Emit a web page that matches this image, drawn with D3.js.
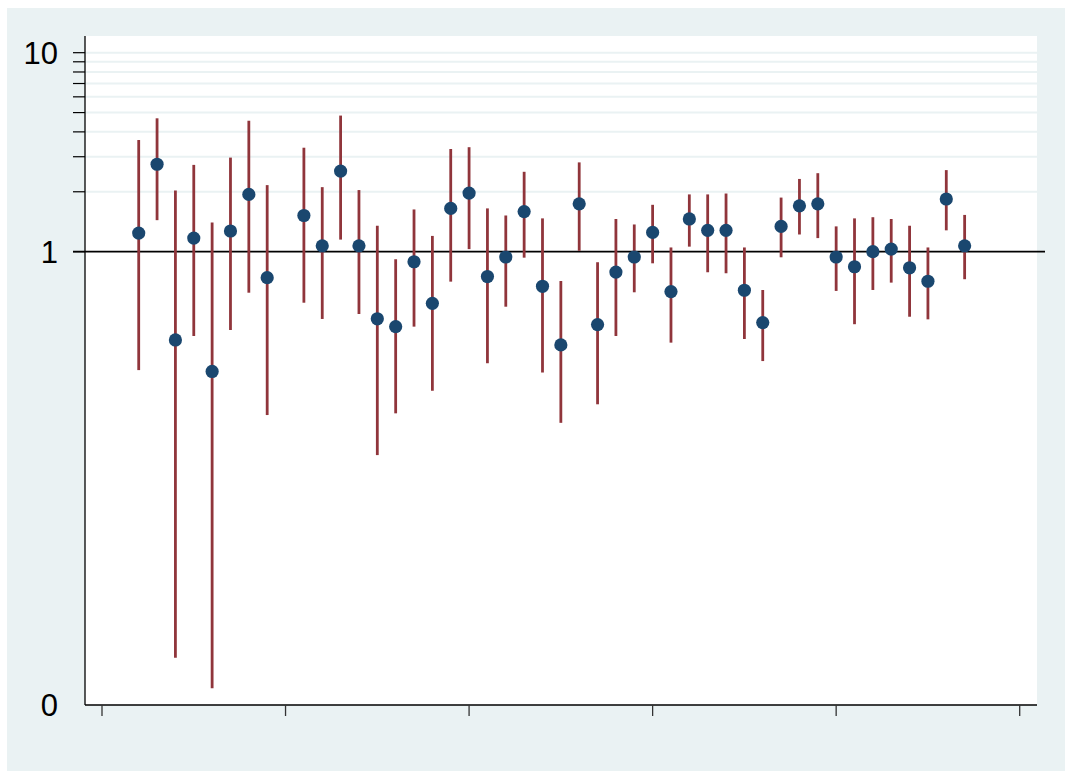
<!DOCTYPE html>
<html>
<head>
<meta charset="utf-8">
<script src="https://cdn.jsdelivr.net/npm/d3@7.9.0/dist/d3.min.js"></script>
<style>
  body { margin: 0; background: #fff; }
  svg { display: block; }
  text { font-family: "Liberation Sans", Arial, sans-serif; }
</style>
</head>
<body>
<svg id="chart" width="1073" height="771"></svg>
<script>
// Category positions (x) and estimates with lower / upper bounds (log scale)
const positions = [2, 3, 4, 5, 6, 7, 8, 9,
  11, 12, 13, 14, 15, 16, 17, 18, 19, 20, 21, 22, 23, 24, 25, 26, 27, 28, 29,
  30, 31, 32, 33, 34, 35, 36, 37, 38, 39, 40, 41, 42, 43, 44, 45, 46, 47];

const estimates = [1.24, 2.75, 0.36, 1.17, 0.25, 1.27, 1.94, 0.74,
  1.52, 1.07, 2.54, 1.07, 0.46, 0.42, 0.89, 0.55, 1.65, 1.97, 0.75, 0.94, 1.59, 0.67, 0.34, 1.74, 0.43, 0.79, 0.94,
  1.25, 0.63, 1.46, 1.28, 1.28, 0.64, 0.44, 1.34, 1.70, 1.74, 0.94, 0.84, 1.00, 1.03, 0.83, 0.71, 1.84, 1.07];

const lower = [0.254, 1.44, 0.0091, 0.377, 0.0064, 0.404, 0.622, 0.151,
  0.554, 0.459, 1.15, 0.486, 0.095, 0.154, 0.42, 0.20, 0.707, 1.03, 0.275, 0.529, 0.933, 0.247, 0.138, 1.01, 0.171, 0.377, 0.625,
  0.874, 0.349, 1.06, 0.788, 0.779, 0.364, 0.282, 0.937, 1.22, 1.17, 0.635, 0.432, 0.642, 0.699, 0.471, 0.457, 1.28, 0.727];

const upper = [3.64, 4.68, 2.03, 2.73, 1.40, 2.97, 4.55, 2.16,
  3.33, 2.11, 4.83, 2.04, 1.35, 0.916, 1.63, 1.20, 3.28, 3.35, 1.65, 1.52, 2.52, 1.47, 0.712, 2.81, 0.885, 1.46, 1.37,
  1.72, 1.05, 1.94, 1.94, 1.96, 1.05, 0.642, 1.87, 2.32, 2.48, 1.34, 1.47, 1.49, 1.46, 1.35, 1.05, 2.57, 1.53];

// y axis: labelled ticks and minor (gridline) ticks
const yBottom = 0.00527, yTop = 12.13;
const yLabels = [[yBottom, "0"], [1, "1"], [10, "10"]];
const yMinor = [2, 3, 4, 5, 6, 7, 8, 9, 10];
const xTicks = [0, 10, 20, 30, 40, 50];

const data = positions.map((p, i) => ({ pos: p, est: estimates[i], lo: lower[i], hi: upper[i] }));

const svg = d3.select("#chart");

// outer graph region
svg.append("rect")
  .attr("x", 7).attr("y", 8)
  .attr("width", 1058).attr("height", 763)
  .attr("fill", "#eaf2f3");

const plot = { left: 85, right: 1037, top: 36, bottom: 705 };

svg.append("rect")
  .attr("x", plot.left).attr("y", plot.top)
  .attr("width", plot.right - plot.left).attr("height", plot.bottom - plot.top)
  .attr("fill", "#fff");

const x = d3.scaleLinear().domain([0, 50]).range([102, 1019.7]);
const y = d3.scaleLog().domain([yBottom, yTop]).range([plot.bottom, plot.top]);

// gridlines
svg.append("g").selectAll("line")
  .data(yMinor)
  .join("line")
  .attr("x1", plot.left).attr("x2", plot.right)
  .attr("y1", d => y(d)).attr("y2", d => y(d))
  .attr("stroke", "#eaf2f3")
  .attr("stroke-width", 2);

// y ticks (minor + 1)
svg.append("g").selectAll("line")
  .data(yMinor.concat([1]))
  .join("line")
  .attr("x1", plot.left - 12).attr("x2", plot.left)
  .attr("y1", d => y(d)).attr("y2", d => y(d))
  .attr("stroke", "#000")
  .attr("stroke-width", 1.2);

// y labels
svg.append("g").selectAll("text")
  .data(yLabels)
  .join("text")
  .attr("x", 58)
  .attr("y", d => y(d[0]))
  .attr("dy", "0.36em")
  .attr("text-anchor", "end")
  .attr("font-size", 31)
  .attr("fill", "#000")
  .text(d => d[1]);

// axes lines
svg.append("line")
  .attr("x1", plot.left).attr("x2", plot.left)
  .attr("y1", plot.top).attr("y2", plot.bottom)
  .attr("stroke", "#000").attr("stroke-width", 1.3);

svg.append("line")
  .attr("x1", plot.left).attr("x2", plot.right)
  .attr("y1", plot.bottom).attr("y2", plot.bottom)
  .attr("stroke", "#000").attr("stroke-width", 1.3);

// x ticks, no labels
svg.append("g").selectAll("line")
  .data(xTicks)
  .join("line")
  .attr("x1", d => x(d)).attr("x2", d => x(d))
  .attr("y1", plot.bottom).attr("y2", plot.bottom + 11)
  .attr("stroke", "#333")
  .attr("stroke-width", 1.3);

// reference line at 1
svg.append("line")
  .attr("x1", plot.left - 12).attr("x2", 1045)
  .attr("y1", y(1)).attr("y2", y(1))
  .attr("stroke", "#000").attr("stroke-width", 1.6);

// confidence spikes
svg.append("g").selectAll("line")
  .data(data)
  .join("line")
  .attr("x1", d => x(d.pos)).attr("x2", d => x(d.pos))
  .attr("y1", d => y(d.lo)).attr("y2", d => y(d.hi))
  .attr("stroke", "#90353b")
  .attr("stroke-width", 2.8);

// point estimates
svg.append("g").selectAll("circle")
  .data(data)
  .join("circle")
  .attr("cx", d => x(d.pos))
  .attr("cy", d => y(d.est))
  .attr("r", 6.6)
  .attr("fill", "#1a476f");
</script>
</body>
</html>
